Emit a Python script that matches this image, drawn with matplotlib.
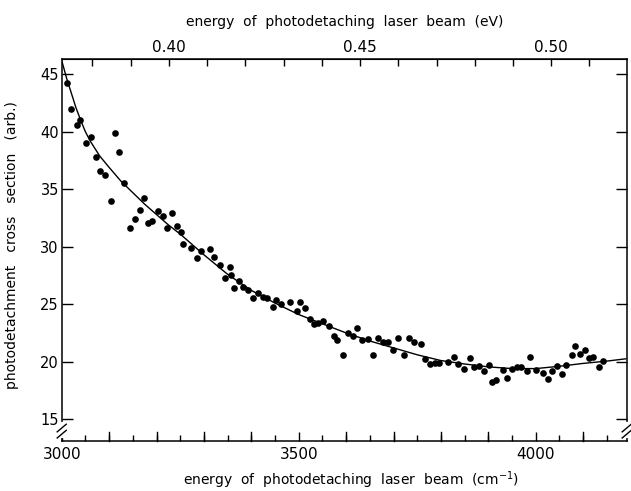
import numpy as np
import matplotlib
matplotlib.use('Agg')
import matplotlib.pyplot as plt

# measured points (cm^-1, cross section arb.)
wavenumber = [3012, 3020, 3032, 3039, 3051, 3061, 3072, 3081, 3091, 3104,
              3112, 3121, 3132, 3144, 3155, 3166, 3173, 3181, 3191, 3204,
              3214, 3223, 3233, 3243, 3252, 3256, 3273, 3285, 3293, 3313,
              3321, 3335, 3345, 3355, 3357, 3363, 3374, 3383, 3392, 3403,
              3414, 3425, 3434, 3445, 3453, 3462, 3481, 3496, 3503, 3513,
              3524, 3532, 3541, 3552, 3563, 3575, 3581, 3594, 3603, 3614,
              3624, 3633, 3646, 3657, 3668, 3678, 3689, 3698, 3710, 3722,
              3733, 3744, 3759, 3767, 3777, 3788, 3797, 3814, 3827, 3837,
              3848, 3862, 3870, 3880, 3891, 3902, 3907, 3917, 3930, 3940,
              3949, 3960, 3970, 3981, 3989, 4000, 4015, 4025, 4034, 4044,
              4055, 4064, 4076, 4083, 4093, 4105, 4113, 4120, 4134, 4141]
cross_section = [44.2, 42.0, 40.6, 41.0, 39.0, 39.5, 37.8, 36.6, 36.2, 34.0,
                 39.9, 38.2, 35.5, 31.6, 32.4, 33.2, 34.2, 32.1, 32.2, 33.1,
                 32.7, 31.6, 32.9, 31.8, 31.3, 30.2, 29.9, 29.0, 29.6, 29.8,
                 29.1, 28.4, 27.3, 28.2, 27.5, 26.4, 27.0, 26.5, 26.2, 25.5,
                 26.0, 25.6, 25.5, 24.8, 25.4, 25.0, 25.2, 24.4, 25.2, 24.7,
                 23.7, 23.3, 23.4, 23.5, 23.1, 22.2, 21.9, 20.6, 22.5, 22.2,
                 22.9, 21.9, 22.0, 20.6, 22.1, 21.7, 21.7, 21.0, 22.1, 20.6,
                 22.1, 21.7, 21.5, 20.2, 19.8, 19.9, 19.9, 20.0, 20.4, 19.8,
                 19.4, 20.3, 19.5, 19.6, 19.2, 19.7, 18.2, 18.4, 19.3, 18.6,
                 19.4, 19.5, 19.5, 19.2, 20.4, 19.3, 19.0, 18.5, 19.2, 19.6,
                 18.9, 19.7, 20.6, 21.4, 20.7, 21.0, 20.3, 20.4, 19.5, 20.1]

# fitted curve
fit_wavenumber = [3000, 3010, 3020, 3030, 3040, 3050, 3060, 3080, 3100, 3125,
                  3150, 3175, 3200, 3225, 3250, 3300, 3350, 3400, 3450, 3500,
                  3550, 3600, 3650, 3700, 3750, 3800, 3850, 3900, 3950, 4000,
                  4050, 4100, 4150, 4190]
fit_cross_section = [46.2, 44.7, 43.4, 42.1, 41.0, 40.0, 39.2, 37.9, 36.9, 35.7,
                     34.7, 33.7, 32.8, 31.9, 31.1, 29.3, 27.6, 26.2, 25.1, 24.1,
                     23.3, 22.5, 21.8, 21.2, 20.6, 20.1, 19.8, 19.55, 19.4, 19.4,
                     19.6, 19.85, 20.05, 20.25]

y_ticks = [15, 20, 25, 30, 35, 40, 45]
ev_ticks = [0.38, 0.39, 0.40, 0.41, 0.42, 0.43, 0.44, 0.45, 0.46, 0.47,
            0.48, 0.49, 0.50, 0.51, 0.52]
ev_labels = {0.40: '0.40', 0.45: '0.45', 0.50: '0.50'}

CM_PER_EV = 8065.54


def cm_to_ev(x):
    return np.asarray(x) / CM_PER_EV


def ev_to_cm(x):
    return np.asarray(x) * CM_PER_EV


def main():
    plt.rcParams['font.family'] = 'DejaVu Sans'
    fig = plt.figure(figsize=(6.31, 4.91), dpi=100)
    ax = fig.add_axes([0.0978, 0.1018, 0.8954, 0.7774])

    ax.plot(fit_wavenumber, fit_cross_section, color='black', lw=1.0)
    ax.plot(wavenumber, cross_section, 'o', color='black', ms=4.8,
            markeredgewidth=0)

    ax.set_xlim(3000, 4192)
    ax.set_ylim(13.1, 46.3)
    for s in ax.spines.values():
        s.set_linewidth(1.1)

    ax.set_xticks([3000, 3500, 4000])
    ax.set_xticks(np.arange(3050, 4200, 50), minor=True)
    ax.tick_params(axis='x', which='major', direction='in', length=6.5,
                   width=1.0, labelsize=11, pad=4)
    ax.tick_params(axis='x', which='minor', direction='in', length=4,
                   width=1.0)
    # longer minor ticks at every 100
    for x in range(3100, 4200, 100):
        if x % 500:
            ax.plot([x, x], [0, 0.024], color='black', lw=1.0,
                    transform=ax.get_xaxis_transform(), clip_on=False)

    ax.set_yticks(y_ticks)
    ax.tick_params(axis='y', which='major', direction='in', length=8,
                   width=1.0, labelsize=10.5, right=True, pad=2)

    top = ax.secondary_xaxis('top', functions=(cm_to_ev, ev_to_cm))
    top.set_xticks(ev_ticks)
    top.set_xticklabels([ev_labels.get(round(v, 2), '') for v in ev_ticks])
    top.tick_params(direction='in', length=5, width=1.0, labelsize=11, pad=3)
    top.set_xlabel('energy  of  photodetaching  laser  beam  (eV)',
                   fontsize=10, labelpad=10)

    ax.set_xlabel('energy  of  photodetaching  laser  beam  (cm$^{-1}$)',
                  fontsize=10)
    ax.xaxis.set_label_coords(0.512, -0.074)
    ax.set_ylabel('photodetachment   cross   section   (arb.)', fontsize=10)
    ax.yaxis.set_label_coords(-0.075, 0.513)

    # axis break marks on both vertical spines
    for xa in (0.0, 1.0):
        ax.plot([xa, xa], [0.012, 0.045], color='white', lw=3,
                transform=ax.transAxes, clip_on=False, zorder=5)
        for yo in (0.018, 0.034):
            ax.plot([xa - 0.008, xa + 0.008], [yo - 0.01, yo + 0.01],
                    color='black', lw=1.0, transform=ax.transAxes,
                    clip_on=False, zorder=6)

    fig.savefig('out.png', dpi=100)


if __name__ == '__main__':
    main()
